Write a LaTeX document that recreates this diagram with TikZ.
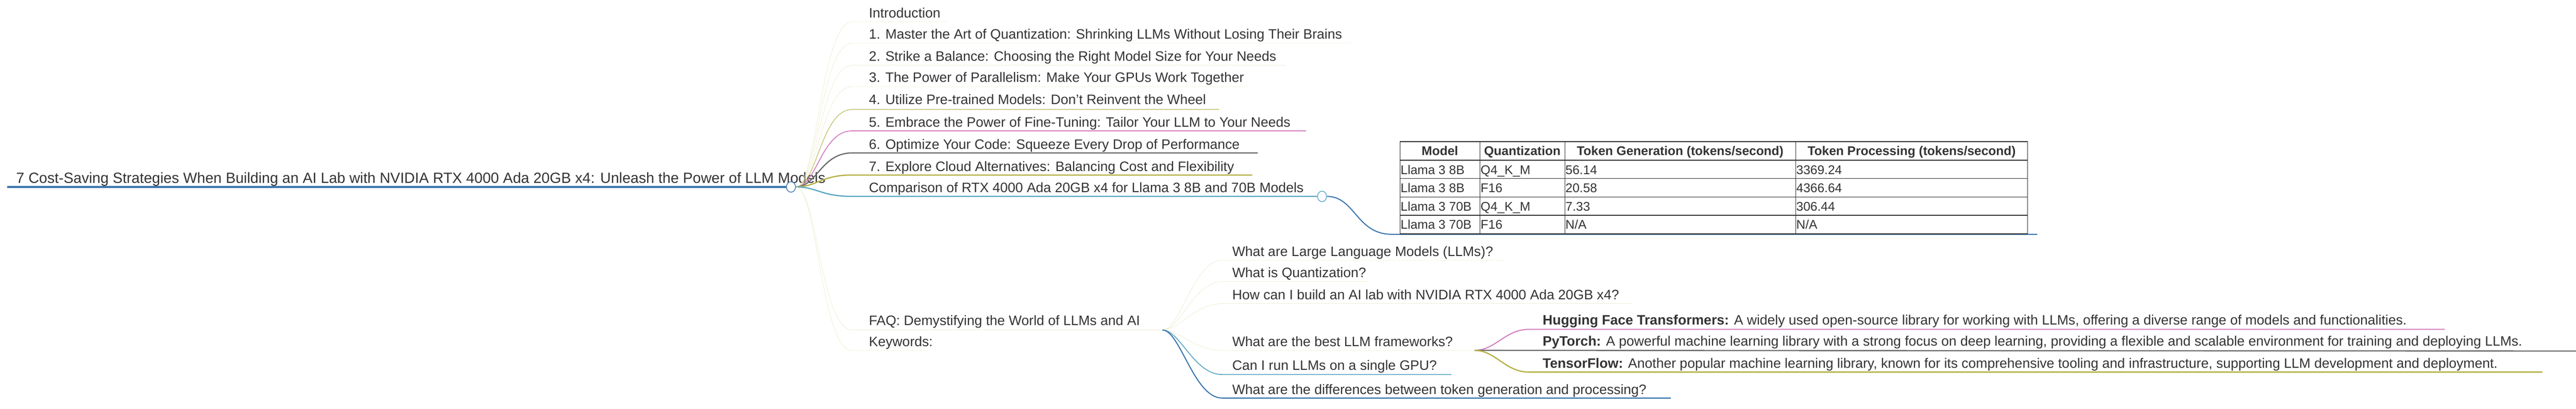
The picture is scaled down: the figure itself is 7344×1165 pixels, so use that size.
\documentclass[tikz,border=0pt]{standalone}
\usepackage{fontspec}
\usetikzlibrary{shapes.geometric}
\setmainfont{Liberation Sans}
\definecolor{cblue}{HTML}{3A75AE}
\definecolor{clblue}{HTML}{5BA8C4}
\definecolor{cpink}{HTML}{D47DC0}
\definecolor{cgrey}{HTML}{6E6E6E}
\definecolor{colive}{HTML}{B5B146}
\definecolor{ctext}{HTML}{333333}
\begin{document}
\begin{tikzpicture}[x=1pt,y=-1pt,
  txt/.style={anchor=base west,inner sep=0pt,text=ctext,font=\fontsize{39}{46}\selectfont},
  cell/.style={anchor=base west,inner sep=0pt,text=ctext,font=\fontsize{36}{42}\selectfont},
  head/.style={anchor=base,inner sep=0pt,text=ctext,font=\fontsize{36}{42}\selectfont\bfseries},
  uline/.style={line width=3.5pt},
  faint/.style={line width=0.7pt,colive!35},
  knob/.style={ellipse,draw,line width=2pt,fill=white,minimum width=26pt,minimum height=30pt,inner sep=0pt}]
\useasboundingbox (0,0) rectangle (7344,1165);
% root
\node[txt,font=\fontsize{42}{50}\selectfont] (root) at (46,522) {7 Cost-Saving Strategies When Building an AI Lab with NVIDIA RTX 4000 Ada 20GB x4: Unleash the Power of LLM Models};
\coordinate (r0) at (21,533);
\node[knob,draw=cblue] (rc) at (2255,533) {};
\draw[cblue,line width=5pt] (r0) -- (rc.west);
% items
\foreach \n/\y/\t in {i0/50/Introduction,
 i1/111/1. Master the Art of Quantization: Shrinking LLMs Without Losing Their Brains,
 i2/174/2. Strike a Balance: Choosing the Right Model Size for Your Needs,
 i3/235/3. The Power of Parallelism: Make Your GPUs Work Together,
 i4/298/4. Utilize Pre-trained Models: Don't Reinvent the Wheel,
 i5/362/5. Embrace the Power of Fine-Tuning: Tailor Your LLM to Your Needs,
 i6/425/6. Optimize Your Code: Squeeze Every Drop of Performance,
 i7/488/7. Explore Cloud Alternatives: Balancing Cost and Flexibility,
 i8/549/Comparison of RTX 4000 Ada 20GB x4 for Llama 3 8B and 70B Models}
 {\node[txt] (\n) at (2477,\y) {\t};}
\foreach \n/\y/\e in {0/62/2700,1/123/3850,2/186/3665,3/247/3560}{
  \coordinate (s\n) at (2430,\y); \coordinate (e\n) at (\e,\y);
  \draw[faint] (rc.east) .. controls +(60,0) and +(-90,0) .. (s\n) -- (e\n);}
\coordinate (s4) at (2430,312); \coordinate (e4) at (3475,312);
\draw[colive,line width=1.5pt] (rc.east) .. controls +(60,0) and +(-90,0) .. (s4) -- (e4);
\coordinate (s5) at (2430,373); \coordinate (e5) at (3723,373);
\draw[cpink,uline,line width=2.5pt] (rc.east) .. controls +(60,0) and +(-90,0) .. (s5) -- (e5);
\coordinate (s6) at (2430,436); \coordinate (e6) at (3586,436);
\draw[cgrey,uline] (rc.east) .. controls +(60,0) and +(-90,0) .. (s6) -- (e6);
\coordinate (s7) at (2430,499); \coordinate (e7) at (3570,499);
\draw[colive,uline] (rc.east) .. controls +(60,0) and +(-90,0) .. (s7) -- (e7);
\coordinate (s8) at (2430,560);
\node[knob,draw=clblue] (cc) at (3769,560) {};
\draw[clblue,uline] (rc.east) .. controls +(60,0) and +(-90,0) .. (s8) -- (cc.west);
% table
\coordinate (t0) at (3967,668); \coordinate (t1) at (5808,668);
\draw[cblue,line width=3pt] (cc.east) .. controls +(80,0) and +(-100,0) .. (t0) -- (t1);
\foreach \yy in {404,457,509,562,614,667} \draw[ctext,line width=2.5pt] (3991,\yy) -- (5781,\yy);
\foreach \xx in {3991,4219,4461,5119,5781} \draw[ctext,line width=1.3pt] (\xx,404) -- (\xx,667);
\node[head] (h1) at (4105,443) {Model};
\node[head] (h2) at (4340,443) {Quantization};
\node[head] (h3) at (4790,443) {Token Generation (tokens/second)};
\node[head] (h4) at (5450,443) {Token Processing (tokens/second)};
\foreach \r/\y/\a/\b/\c/\d in {1/497/Llama 3 8B/Q4\_K\_M/56.14/3369.24, 2/548/Llama 3 8B/F16/20.58/4366.64, 3/601/Llama 3 70B/Q4\_K\_M/7.33/306.44, 4/653/Llama 3 70B/F16/N\slash A/N\slash A}{
  \node[cell] (c\r a) at (3993,\y) {\a};
  \node[cell] (c\r b) at (4221,\y) {\b};
  \node[cell] (c\r c) at (4463,\y) {\c};
  \node[cell] (c\r d) at (5121,\y) {\d};}
% FAQ
\node[txt] (faq) at (2477,927) {FAQ: Demystifying the World of LLMs and AI};
\node[txt] (kw) at (2477,988) {Keywords:};
\coordinate (fs) at (2430,941); \coordinate (fj) at (3314,941);
\coordinate (ks) at (2430,1000); \coordinate (ke) at (2640,1000);
\draw[faint] (rc.east) .. controls +(60,0) and +(-90,0) .. (fs) -- (fj);
\draw[faint] (rc.east) .. controls +(60,0) and +(-90,0) .. (ks) -- (ke);
\foreach \n/\y/\t in {q1/730/What are Large Language Models (LLMs)?,
 q2/791/What is Quantization?,
 q3/854/How can I build an AI lab with NVIDIA RTX 4000 Ada 20GB x4?,
 q4/988/What are the best LLM frameworks?,
 q5/1056/Can I run LLMs on a single GPU?,
 q6/1125/What are the differences between token generation and processing?}
 {\node[txt] (\n) at (3513,\y) {\t};}
\foreach \n/\y/\e in {1/742/4290,2/803/3900,3/866/4650}{
  \coordinate (qs\n) at (3484,\y); \coordinate (qe\n) at (\e,\y);
  \draw[faint] (fj) .. controls +(50,0) and +(-80,0) .. (qs\n) -- (qe\n);}
\coordinate (qs4) at (3484,999); \coordinate (qj) at (4204,999);
\draw[faint] (fj) .. controls +(50,0) and +(-80,0) .. (qs4) -- (qj);
\coordinate (qs5) at (3484,1068); \coordinate (qe5) at (4138,1068);
\draw[clblue,line width=2.5pt] (fj) .. controls +(50,0) and +(-80,0) .. (qs5) -- (qe5);
\coordinate (qs6) at (3484,1135); \coordinate (qe6) at (4763,1135);
\draw[cblue,line width=3pt] (fj) .. controls +(50,0) and +(-80,0) .. (qs6) -- (qe6);
% frameworks
\node[txt] (f1) at (4398,926) {\textbf{Hugging Face Transformers:} A widely used open-source library for working with LLMs, offering a diverse range of models and functionalities.};
\node[txt] (f2) at (4398,987) {\textbf{PyTorch:} A powerful machine learning library with a strong focus on deep learning, providing a flexible and scalable environment for training and deploying LLMs.};
\node[txt] (f3) at (4398,1049) {\textbf{TensorFlow:} Another popular machine learning library, known for its comprehensive tooling and infrastructure, supporting LLM development and deployment.};
\coordinate (fs1) at (4360,939); \coordinate (fe1) at (6970,939);
\coordinate (fe2) at (7344,1001);
\coordinate (fs3) at (4360,1061); \coordinate (fe3) at (7248,1061);
\draw[cpink,line width=3pt] (qj) .. controls +(60,0) and +(-70,0) .. (fs1) -- (fe1);
\draw[cgrey,line width=3.5pt] (qj) -- (fe2);
\draw[colive,line width=3.5pt] (qj) .. controls +(60,0) and +(-70,0) .. (fs3) -- (fe3);
\end{tikzpicture}
\end{document}
